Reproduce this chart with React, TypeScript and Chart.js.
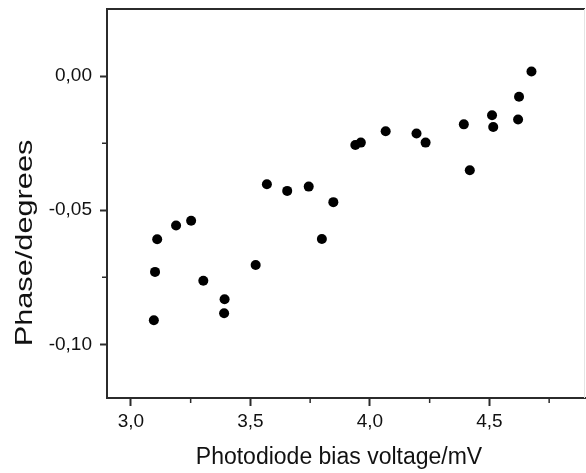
import React, { useEffect, useRef } from "react";
import { Chart, registerables } from "chart.js";

Chart.register(...registerables);

const biasVoltage = [
  3.096, 3.101, 3.110, 3.189, 3.252, 3.303, 3.392, 3.390, 3.522, 3.569,
  3.654, 3.744, 3.799, 3.847, 3.939, 3.962, 4.066, 4.195, 4.233, 4.393,
  4.418, 4.511, 4.516, 4.620, 4.624, 4.676,
];
const phase = [
  -0.0910, -0.0730, -0.0608, -0.0557, -0.0539, -0.0763, -0.0832, -0.0884, -0.0704, -0.0403,
  -0.0428, -0.0412, -0.0607, -0.0470, -0.0257, -0.0248, -0.0206, -0.0214, -0.0248, -0.0180,
  -0.0351, -0.0146, -0.0190, -0.0162, -0.0077, 0.0017,
];
const xMajorTicks = [3.0, 3.5, 4.0, 4.5];
const xMinorTicks = [3.25, 3.75, 4.25, 4.75];
const yMajorTicks = [-0.1, -0.05, 0.0];
const yMinorTicks = [-0.075, -0.025];
const xTitle = "Photodiode bias voltage/mV";
const yTitle = "Phase/degrees";

const FONT = "'Liberation Sans', Arial, Helvetica, sans-serif";
const AXIS = "#2b2b2b";

const framePlugin = {
  id: "frame",
  afterDraw(chart: any) {
    const { ctx, chartArea } = chart;
    const { left, right, top, bottom } = chartArea;
    const xs = chart.scales.x;
    const ys = chart.scales.y;
    ctx.save();
    // top border
    ctx.strokeStyle = AXIS;
    ctx.lineWidth = 2;
    ctx.beginPath();
    ctx.moveTo(left - 1, top);
    ctx.lineTo(right, top);
    ctx.stroke();
    // right border (faint)
    ctx.strokeStyle = "#e4e4e4";
    ctx.lineWidth = 1;
    ctx.beginPath();
    ctx.moveTo(right - 0.5, top);
    ctx.lineTo(right - 0.5, bottom);
    ctx.stroke();
    // minor ticks
    ctx.strokeStyle = AXIS;
    ctx.lineWidth = 1.5;
    ctx.beginPath();
    xMinorTicks.forEach((v) => {
      const px = xs.getPixelForValue(v);
      ctx.moveTo(px, bottom);
      ctx.lineTo(px, bottom + 5);
    });
    yMinorTicks.forEach((v) => {
      const py = ys.getPixelForValue(v);
      ctx.moveTo(left, py);
      ctx.lineTo(left - 5, py);
    });
    ctx.stroke();
    // x axis title
    ctx.fillStyle = "#111";
    ctx.textAlign = "center";
    ctx.textBaseline = "middle";
    ctx.font = `23px ${FONT}`;
    ctx.fillText(xTitle, 339, 458);
    // y axis title (stretched along its length, as in the reference)
    ctx.font = `24px ${FONT}`;
    ctx.translate(25, 243);
    ctx.rotate(-Math.PI / 2);
    ctx.scale(1.28, 1);
    ctx.fillText(yTitle, 0, 0);
    ctx.restore();
  },
};

function noPad(s: any) {
  s.paddingLeft = 0;
  s.paddingRight = 0;
  s.paddingTop = 0;
  s.paddingBottom = 0;
}

export default function App() {
  const canvasRef = useRef<HTMLCanvasElement | null>(null);

  useEffect(() => {
    if (!canvasRef.current) return;
    const chart = new Chart(canvasRef.current, {
      type: "scatter",
      data: {
        datasets: [
          {
            data: biasVoltage.map((x, i) => ({ x, y: phase[i] })),
            backgroundColor: "#000",
            borderWidth: 0,
            pointRadius: 5,
            pointHoverRadius: 5,
          },
        ],
      },
      options: {
        animation: false,
        responsive: false,
        maintainAspectRatio: false,
        layout: { autoPadding: false, padding: { top: 9, right: 1, left: 0, bottom: 0 } },
        plugins: { legend: { display: false }, tooltip: { enabled: false } },
        scales: {
          x: {
            type: "linear",
            min: 2.9,
            max: 4.9,
            afterFit: (s: any) => {
              s.height = 75;
              noPad(s);
            },
            afterBuildTicks: (s: any) => {
              s.ticks = xMajorTicks.map((value) => ({ value }));
            },
            grid: {
              drawOnChartArea: false,
              drawTicks: true,
              tickLength: 8,
              tickColor: AXIS,
              tickWidth: 2,
            },
            border: { display: true, color: AXIS, width: 2 },
            ticks: {
              color: "#111",
              padding: 4,
              maxRotation: 0,
              font: { family: FONT, size: 19 },
              callback: (v: any) => Number(v).toFixed(1).replace(".", ","),
            },
            title: { display: false },
          },
          y: {
            type: "linear",
            min: -0.12,
            max: 0.025,
            afterFit: (s: any) => {
              s.width = 107;
              noPad(s);
            },
            afterBuildTicks: (s: any) => {
              s.ticks = yMajorTicks.map((value) => ({ value }));
            },
            grid: {
              drawOnChartArea: false,
              drawTicks: true,
              tickLength: 7,
              tickColor: AXIS,
              tickWidth: 2,
            },
            border: { display: true, color: AXIS, width: 2 },
            ticks: {
              color: "#111",
              padding: 8,
              font: { family: FONT, size: 19 },
              callback: (v: any) => Number(v).toFixed(2).replace(".", ","),
            },
            title: { display: false },
          },
        },
      },
      plugins: [framePlugin],
    });
    return () => chart.destroy();
  }, []);

  return (
    <div style={{ position: "absolute", left: 0, top: 0, width: 586, height: 473, background: "#fff" }}>
      <canvas ref={canvasRef} width={586} height={473} style={{ width: 586, height: 473, display: "block" }} />
    </div>
  );
}
